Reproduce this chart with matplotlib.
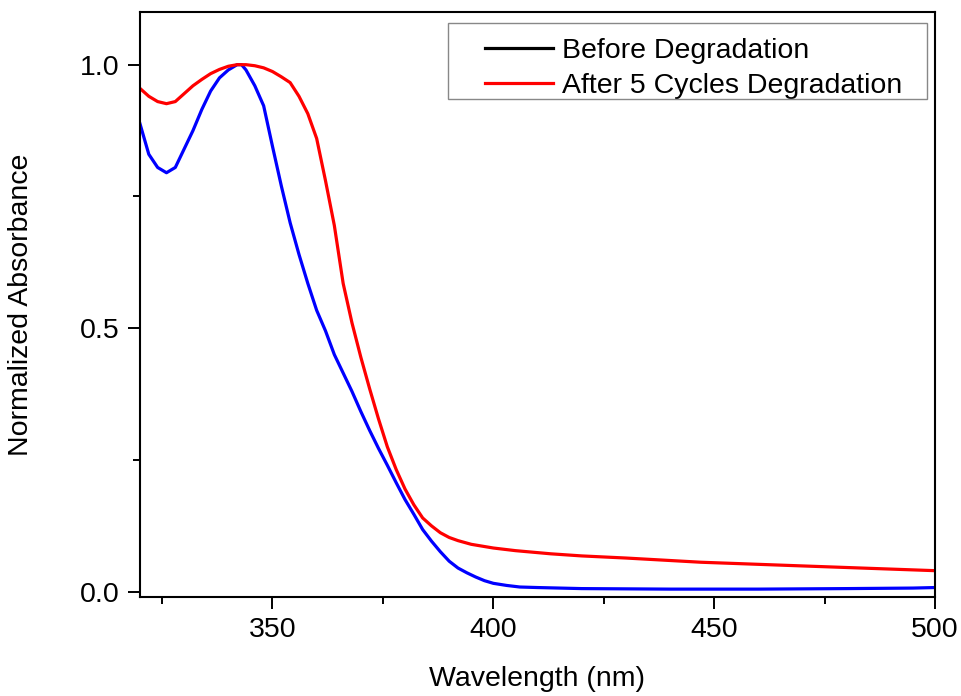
import numpy as np
import matplotlib.pyplot as plt
from matplotlib.ticker import MultipleLocator, FormatStrFormatter
from matplotlib.lines import Line2D
from matplotlib.legend_handler import HandlerLine2D
from matplotlib.patches import Rectangle

plt.rcParams['font.family'] = ['Liberation Sans', 'DejaVu Sans']

# before degradation (drawn blue)
wl_before = [320, 322, 324, 326, 328, 330, 332, 334, 336, 338, 340, 342, 343, 344, 346, 348,
             350, 352, 354, 356, 358, 360, 362, 364, 366, 368, 370, 372, 374, 376, 378, 380,
             382, 384, 386, 388, 390, 392, 394, 396, 398, 400, 403, 406, 410, 420, 440, 460,
             480, 495, 500]
abs_before = [0.888, 0.83, 0.805, 0.795, 0.805, 0.84, 0.875, 0.915, 0.95, 0.975, 0.99, 1.0, 1.0, 0.99, 0.96, 0.922,
              0.845, 0.77, 0.70, 0.64, 0.585, 0.534, 0.495, 0.45, 0.415, 0.38, 0.342, 0.306, 0.272, 0.24, 0.207, 0.175,
              0.147, 0.118, 0.096, 0.076, 0.058, 0.045, 0.036, 0.028, 0.021, 0.016, 0.012, 0.009, 0.008, 0.006, 0.005, 0.005,
              0.006, 0.007, 0.008]

# after 5 cycles
wl_after = [320, 322, 324, 326, 328, 330, 332, 334, 336, 338, 340, 342, 344, 346, 348, 350,
            352, 354, 356, 358, 360, 362, 364, 366, 368, 370, 372, 374, 376, 378, 380, 382,
            384, 386, 388, 390, 392, 395, 400, 405, 413, 420, 430, 447, 470, 490, 500]
abs_after = [0.955, 0.94, 0.93, 0.926, 0.93, 0.945, 0.96, 0.972, 0.983, 0.991, 0.997, 1.0, 1.0, 0.998, 0.994, 0.987,
             0.977, 0.966, 0.94, 0.907, 0.86, 0.78, 0.695, 0.585, 0.51, 0.445, 0.385, 0.328, 0.275, 0.232, 0.195, 0.165,
             0.14, 0.125, 0.112, 0.103, 0.097, 0.09, 0.083, 0.078, 0.072, 0.068, 0.064, 0.056, 0.049, 0.043, 0.040]

W, H = 962, 696
fig = plt.figure(figsize=(9.62, 6.96), dpi=100)
ax = fig.add_axes([0.1455, 0.1422, 0.8265, 0.8406])

ax.plot(wl_before, abs_before, color='#0000ff', linewidth=2.3, label='Before Degradation')
ax.plot(wl_after, abs_after, color='#ff0000', linewidth=2.3, label='After 5 Cycles Degradation')

ax.set_xlim(320, 500)
ax.set_ylim(-0.01, 1.1)
ax.xaxis.set_major_locator(MultipleLocator(50))
ax.xaxis.set_minor_locator(MultipleLocator(25))
ax.yaxis.set_major_locator(MultipleLocator(0.5))
ax.yaxis.set_minor_locator(MultipleLocator(0.25))
ax.yaxis.set_major_formatter(FormatStrFormatter('%.1f'))
ax.tick_params(which='major', direction='out', length=8.5, width=1.4, labelsize=20.5, pad=6)
ax.tick_params(which='minor', direction='out', length=5, width=1.4)
for s in ax.spines.values():
    s.set_linewidth(1.5)

ax.set_xlabel('Wavelength (nm)', fontsize=20.5)
ax.set_ylabel('Normalized Absorbance', fontsize=20.5)
ax.xaxis.set_label_coords(0.499, -0.118)
ax.yaxis.set_label_coords(-0.133, 0.5)

# legend without its own frame, box drawn separately so the padding matches
leg = ax.legend(loc='upper left', bbox_to_anchor=(455/W, 1 - 38/H), bbox_transform=fig.transFigure,
                fontsize=20.5, frameon=False, borderaxespad=0, borderpad=0,
                handlelength=3.44, handletextpad=0.32, labelspacing=0.3,
                handler_map={Line2D: HandlerLine2D(xpad=1.05)})
leg.get_lines()[0].set_color('black')
fig.add_artist(Rectangle((448/W, 1 - 99/H), 479/W, 76/H, transform=fig.transFigure,
                         fill=False, edgecolor='#888888', linewidth=1.0))

fig.savefig('out.png', dpi=100)
